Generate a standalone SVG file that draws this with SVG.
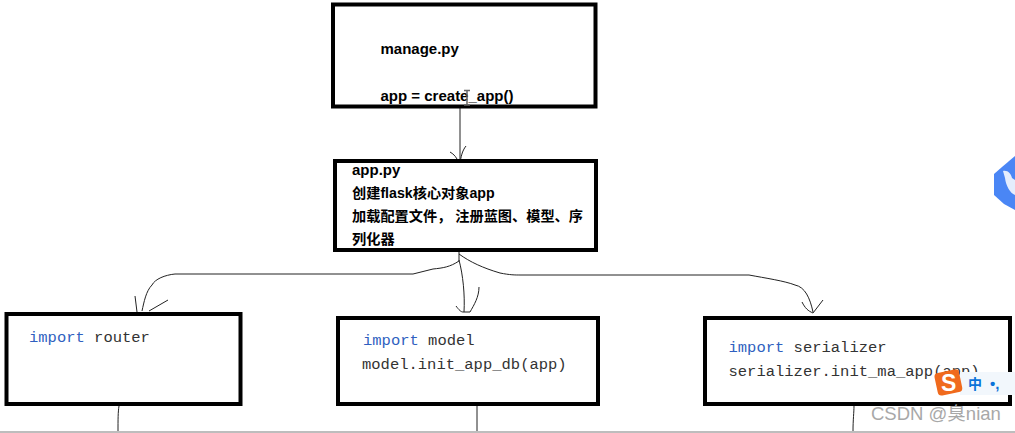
<svg xmlns="http://www.w3.org/2000/svg" width="1015" height="433" viewBox="0 0 1015 433">
<style>
.box{fill:#fff;stroke:#000;stroke-width:4}
.line{fill:none;stroke:#222;stroke-width:1}
.ui{font-family:"Liberation Sans","Noto Sans CJK SC",sans-serif;font-size:15px;font-weight:700;fill:#000}
.cjk{font-size:14.2px}
.code{font-family:"Liberation Mono","Noto Sans CJK SC",monospace;font-size:15.5px;fill:#333}
.kw{fill:#2f5fc0}
</style>
<rect width="1015" height="433" fill="#fff"/>
<g id="connectors">
<path class="line" d="M460 108V163M450 152C454 154 457 158 459 163M466 146C462 151 461 157 460 163"/>
<path class="line" d="M459 252V260L459 261C450 267 443 268 433 269L413 274H175C165 275 155 279 152 285C146 291 144 302 142 311M135 296L137 312M168 300L149 311"/>
<path class="line" d="M459 260C463 275 465 295 464 312M456 306C459 310 461 312 463 312H470C474 305 479 297 479 287"/>
<path class="line" d="M459 254C470 262 483 268 500 273C510 275 515 275 520 275H749C765 278 785 281 795 285C805 287 810 298 813 312M802 302C805 308 808 311 813 313M823 300L813 313"/>
<path class="line" d="M119 406C118 412 118 420 118 431" stroke="#555"/>
<path class="line" d="M477 406V431"/>
<path class="line" d="M854 406C854 412 853 420 853 431"/>
</g>
<g id="node-manage">
<rect class="box" x="333" y="4.500" width="262.500" height="102"/>
<text class="ui" x="380.500" y="54">manage.py</text>
<text class="ui" x="380.500" y="101">app = create_app()</text>
<path d="M464 90.500H470M467 90.500V105M464 105H470" fill="none" stroke="#666" stroke-width="1.500"/>
</g>
<g id="node-app">
<rect class="box" x="335" y="161" width="261" height="89"/>
<text class="ui" x="352" y="175">app.py</text>
<text class="ui cjk" x="352" y="198">创建flask核心对象app</text>
<text class="ui cjk" x="352" y="221">加载配置文件， 注册蓝图、模型、序</text>
<text class="ui cjk" x="352" y="244">列化器</text>
</g>
<g id="node-router">
<rect class="box" x="6.500" y="314" width="234" height="90"/>
<text class="code" x="29" y="342"><tspan class="kw">import</tspan> router</text>
</g>
<g id="node-model">
<rect class="box" x="338" y="318" width="260" height="86"/>
<text class="code" x="363" y="345"><tspan class="kw">import</tspan> model</text>
<text class="code" x="362" y="369">model.init_app_db(app)</text>
</g>
<g id="node-serializer">
<rect class="box" x="705" y="318" width="305" height="86"/>
<text class="code" x="728.500" y="352"><tspan class="kw">import</tspan> serializer</text>
<text class="code" x="728.500" y="375.500">serializer.init_ma_app(app)</text>
</g>
<g id="overlay">
<rect x="960" y="372" width="55" height="23" fill="#f2f7fc"/>
<rect x="936" y="371" width="25" height="23" rx="4" fill="#f06a1d" transform="rotate(-12 948 383)"/>
<text x="941" y="391" font-family="'Liberation Sans',sans-serif" font-size="23" font-weight="700" fill="#fff">S</text>
<text x="968" y="389" font-family="'Noto Sans CJK SC',sans-serif" font-size="14" font-weight="700" fill="#0b73d9">中</text>
<text x="990" y="389" font-family="'Liberation Sans',sans-serif" font-size="15" font-weight="700" fill="#0b73d9">•,</text>
<path d="M1015 156L1002 167L994 174V195L1004 204L1015 210Z" fill="#4a86f5"/>
<path d="M1003 171C1008 170 1011 174 1012 178L1015 180V195C1010 193 1006 186 1005 178Z" fill="#e4edfd"/>
<text x="871" y="420" font-family="'Liberation Sans','Noto Sans CJK SC',sans-serif" font-size="18.500" fill="#a8a8a8">CSDN @臭nian</text>
<rect x="0" y="431" width="1015" height="2" fill="#bdbdbd"/>
</g>
</svg>
